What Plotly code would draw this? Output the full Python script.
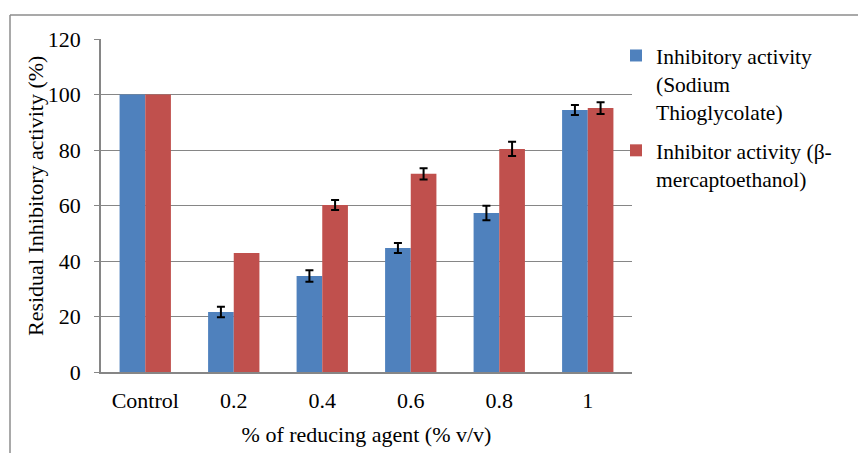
import numpy as np
import plotly.graph_objects as go

categories = ["Control", "0.2", "0.4", "0.6", "0.8", "1"]
thio_values = [100, 21.6, 34.6, 44.7, 57.3, 94.4]
thio_errors = [np.nan, 1.9, 2.1, 1.8, 2.6, 1.8]
merc_values = [100, 42.9, 60.2, 71.4, 80.4, 95.1]
merc_errors = [np.nan, np.nan, 1.8, 2.0, 2.6, 2.1]
y_ticks = [0, 20, 40, 60, 80, 100, 120]

FONT = "Liberation Serif"
OFF = 8  # default body margin of the page
W, H = 866, 453
ML, MT, PW, PH = 101 - OFF, 39 - OFF, 531, 333
MR, MB = W - ML - PW, H - MT - PH

def px(xpage):
    return (xpage - OFF - ML) / PW

def py(ypage):
    return 1 - (ypage - OFF - MT) / PH

fig = go.Figure()
fig.add_trace(go.Bar(
    x=categories, y=thio_values, name="Inhibitory activity<br>(Sodium<br>Thioglycolate)",
    legendgroup="a",
    marker=dict(color="#4F81BD", line=dict(width=0)),
    error_y=dict(type="data", array=np.array(thio_errors, dtype=float), visible=True,
                 color="black", thickness=2, width=4),
))
fig.add_trace(go.Bar(
    x=categories, y=merc_values, name="Inhibitor activity (β-<br>mercaptoethanol)",
    legendgroup="b",
    marker=dict(color="#C0504D", line=dict(width=0)),
    error_y=dict(type="data", array=np.array(merc_errors, dtype=float), visible=True,
                 color="black", thickness=2, width=4),
))

fig.update_layout(
    width=W, height=H,
    margin=dict(l=ML, r=MR, t=MT, b=MB),
    paper_bgcolor="white", plot_bgcolor="white",
    barmode="group", bargap=0.42, bargroupgap=0,
    font=dict(family=FONT, size=22, color="black"),
    showlegend=True,
    legend=dict(x=px(616), y=py(35), xanchor="left", yanchor="top", valign="top",
                font=dict(family=FONT, size=21.5, color="black"),
                tracegroupgap=8, itemwidth=30, bgcolor="rgba(0,0,0,0)"),
    xaxis=dict(showline=True, linecolor="#868686", linewidth=1.5, ticks="",
               tickfont=dict(family=FONT, size=22), ticklabelstandoff=8,
               title=dict(text="% of reducing agent (% v/v)", font=dict(family=FONT, size=22), standoff=14)),
    yaxis=dict(range=[0, 120], tickvals=y_ticks, showgrid=True, gridcolor="#868686", gridwidth=1.2,
               showline=True, linecolor="#868686", linewidth=1.5, ticks="outside", ticklen=5,
               tickcolor="#868686", zeroline=False,
               tickfont=dict(family=FONT, size=22), ticklabelstandoff=9),
    annotations=[
        dict(text="Residual Inhibitory activity (%)", textangle=-90, showarrow=False,
             xref="paper", yref="paper", x=px(36), y=py(196), xanchor="center", yanchor="middle",
             font=dict(family=FONT, size=22, color="black")),
    ],
    shapes=[
        dict(type="line", xref="paper", yref="paper", x0=px(10), x1=px(880), y0=py(15), y1=py(15),
             line=dict(color="#8c8c8c", width=1.5)),
        dict(type="line", xref="paper", yref="paper", x0=px(10), x1=px(10), y0=py(15), y1=py(470),
             line=dict(color="#8c8c8c", width=1.5)),
    ],
)

fig.write_html("out.html")
